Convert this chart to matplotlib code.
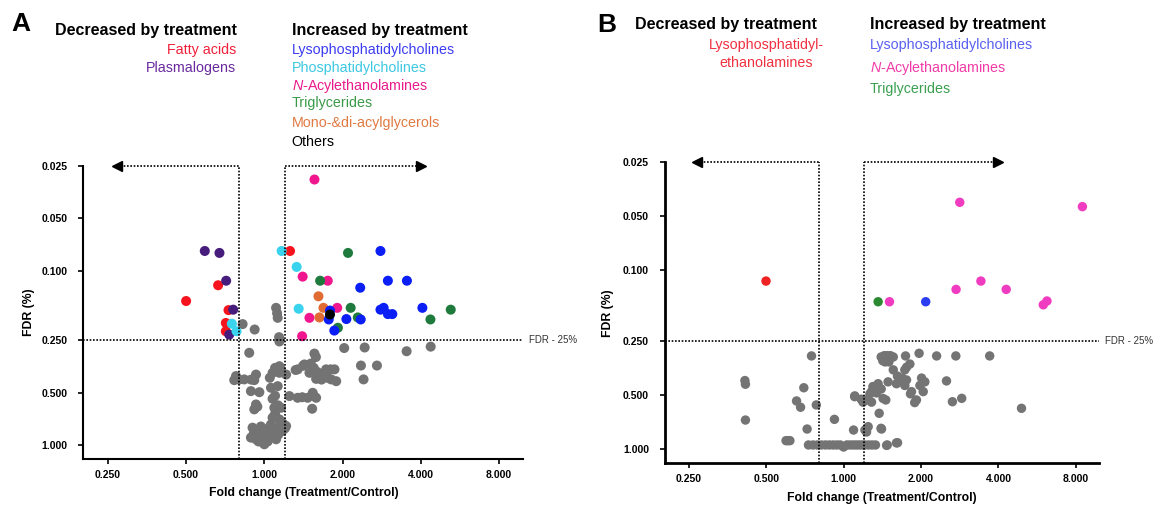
import matplotlib
matplotlib.use('Agg')
import matplotlib.pyplot as plt
from matplotlib.ticker import FixedLocator, NullLocator

plt.rcParams['font.family'] = ['Liberation Sans', 'DejaVu Sans']
plt.rcParams['mathtext.fontset'] = 'custom'
plt.rcParams['mathtext.rm'] = 'Liberation Sans'
plt.rcParams['mathtext.it'] = 'Liberation Sans:italic'

X_TICKS = [0.25, 0.5, 1, 2, 4, 8]
X_LABELS = ['0.250', '0.500', '1.000', '2.000', '4.000', '8.000']
Y_TICKS = [0.025, 0.05, 0.1, 0.25, 0.5, 1.0]
Y_LABELS = ['0.025', '0.050', '0.100', '0.250', '0.500', '1.000']
FC_CUTOFFS = (0.8, 1.2)
FDR_CUTOFF = 0.25
ARROW_ENDS = (0.27, 4.0)

# ---- panel A data (fold change, FDR) ----
fa_fc = [0.50, 0.664, 0.728, 0.711, 0.711, 1.256]
fa_fdr = [0.149, 0.121, 0.168, 0.199, 0.222, 0.077]
pl_fc = [0.59, 0.672, 0.713, 0.759, 0.733]
pl_fdr = [0.077, 0.079, 0.114, 0.167, 0.232]
lpc_fc = [2.80, 2.99, 3.54, 2.34, 1.79, 1.77, 2.07, 2.35, 1.86, 2.80, 2.88, 2.99, 3.11, 4.06]
lpc_fdr = [0.077, 0.114, 0.114, 0.125, 0.169, 0.190, 0.189, 0.190, 0.220, 0.167, 0.163, 0.177, 0.177, 0.163]
pc_fc = [1.166, 1.332, 1.356, 0.75, 0.782]
pc_fdr = [0.077, 0.095, 0.165, 0.201, 0.222]
nae_fc = [1.56, 1.405, 1.755, 1.492, 1.908, 1.398]
nae_fdr = [0.030, 0.108, 0.114, 0.186, 0.163, 0.237]
tg_fc = [2.10, 1.64, 2.15, 2.29, 1.92, 5.22, 4.36]
tg_fdr = [0.079, 0.114, 0.163, 0.185, 0.212, 0.167, 0.190]
mdg_fc = [1.616, 1.689, 1.630]
mdg_fdr = [0.140, 0.163, 0.185]
oth_fc = [1.79]
oth_fdr = [0.178]

gray_a_fc = [1.11, 1.126, 1.12, 1.143, 1.14, 0.825, 0.918, 0.875, 1.559, 1.58, 2.03, 2.434, 3.53, 4.37,
             2.355, 2.714, 2.41,
             0.778, 0.766, 0.80, 0.837, 0.89, 0.929, 0.915, 1.076, 1.10, 1.143, 1.16, 1.213, 1.143, 1.05,
             0.888, 0.957, 1.061, 1.126, 1.076, 1.10,
             0.929, 0.915, 0.94, 1.093, 1.16, 1.13,
             1.076, 1.143, 1.10, 1.213, 1.18,
             0.901, 1.015, 1.143, 0.888, 0.957, 1.045, 1.0, 1.11, 0.929, 0.92, 0.97, 1.06, 1.09, 1.17,
             1.2, 0.95, 1.03, 1.07, 0.98, 1.13, 0.91, 1.02, 0.99, 1.08, 1.15,
             1.344, 1.427, 1.492, 1.583, 1.73, 1.80, 1.863, 1.809, 1.891, 1.41, 1.51, 1.32, 1.62,
             1.66, 1.70, 1.55, 1.60, 1.75,
             1.249, 1.344, 1.469, 1.536, 1.583, 1.528, 1.40, 1.55]
gray_a_fdr = [0.163, 0.186, 0.175, 0.254, 0.240, 0.202, 0.217, 0.295, 0.298, 0.312, 0.277, 0.275, 0.289, 0.272,
              0.349, 0.349, 0.419,
              0.401, 0.423, 0.42, 0.419, 0.42, 0.393, 0.423, 0.384, 0.36, 0.352, 0.37, 0.393, 0.384, 0.41,
              0.489, 0.496, 0.468, 0.458, 0.541, 0.52,
              0.583, 0.622, 0.60, 0.609, 0.609, 0.59,
              0.694, 0.710, 0.66, 0.775, 0.75,
              0.792, 0.809, 0.809, 0.903, 0.864, 0.884, 0.986, 0.923, 0.923, 0.82, 0.78, 0.76, 0.84, 0.83,
              0.80, 0.95, 0.95, 0.90, 0.91, 0.87, 0.86, 0.85, 0.83, 0.80, 0.76,
              0.367, 0.344, 0.384, 0.416, 0.367, 0.367, 0.367, 0.419, 0.429, 0.35, 0.34, 0.37, 0.40,
              0.42, 0.40, 0.36, 0.38, 0.41,
              0.522, 0.534, 0.534, 0.500, 0.534, 0.617, 0.53, 0.52]

# ---- panel B data ----
lpe_b_fc = [0.499]
lpe_b_fdr = [0.115]
lpc_b_fc = [2.086]
lpc_b_fdr = [0.150]
nae_b_fc = [1.508, 2.83, 8.49, 2.738, 3.42, 4.29, 6.18, 5.98]
nae_b_fdr = [0.150, 0.0418, 0.0442, 0.128, 0.115, 0.128, 0.1486, 0.156]
tg_b_fc = [1.362]
tg_b_fdr = [0.150]

gray_b_fc = [0.413, 0.415, 0.415, 0.750, 0.700, 0.656, 0.680, 0.783, 0.921, 0.721, 0.606, 0.597, 0.618,
             0.73, 0.76, 0.79, 0.82, 0.85, 0.88, 0.91, 0.94, 0.97, 1.0, 1.03, 1.06, 1.09, 1.12, 1.15,
             1.18, 1.21, 1.25, 1.29, 1.33, 1.478, 1.621,
             1.104, 1.093, 1.226, 1.246, 1.398, 1.21, 1.228, 1.404, 1.605, 1.47,
             1.40, 1.44, 1.48, 1.52, 1.56, 1.45, 1.50, 1.42, 1.741, 1.966, 2.30, 2.732, 3.70, 1.757,
             1.81, 1.73, 2.513, 2.01, 2.07, 2.04, 1.98, 1.837, 1.654, 1.605, 1.757, 1.489, 1.362, 1.30,
             1.284, 1.343, 1.265, 1.105, 1.17, 1.228, 1.19, 1.284, 1.424, 1.459, 1.82, 1.92, 1.89,
             2.65, 2.88, 4.92, 1.375, 1.56, 1.62, 1.69, 1.33, 1.40, 1.73]
gray_b_fdr = [0.413, 0.433, 0.686, 0.301, 0.453, 0.537, 0.582, 0.565, 0.680, 0.770, 0.894, 0.894, 0.894,
              0.945, 0.945, 0.945, 0.945, 0.945, 0.945, 0.945, 0.945, 0.945, 0.97, 0.945, 0.945, 0.945, 0.945, 0.945,
              0.945, 0.945, 0.945, 0.945, 0.945, 0.945, 0.918,
              0.508, 0.78, 0.78, 0.747, 0.763, 0.78, 0.80, 0.77, 0.92, 0.95,
              0.305, 0.30, 0.30, 0.30, 0.305, 0.325, 0.325, 0.32, 0.301, 0.291, 0.301, 0.301, 0.301, 0.348,
              0.334, 0.36, 0.415, 0.40, 0.42, 0.476, 0.44, 0.476, 0.41, 0.43, 0.41, 0.42, 0.43, 0.446,
              0.476, 0.484, 0.49, 0.503, 0.525, 0.53, 0.545, 0.545, 0.52, 0.53, 0.49, 0.53, 0.548,
              0.542, 0.519, 0.59, 0.629, 0.36, 0.39, 0.40, 0.47, 0.46, 0.44]

W, H = 1164, 505
fig = plt.figure(figsize=(W / 100, H / 100), dpi=100)


def px(x, y):
    return x / W, 1 - y / H


def setup(ax, xlim, ylim, spine_w, dot_size):
    ax.set_xscale('log', base=2)
    ax.set_yscale('log')
    ax.set_xlim(*xlim)
    ax.set_ylim(*ylim)
    ax.xaxis.set_major_locator(FixedLocator(X_TICKS))
    ax.yaxis.set_major_locator(FixedLocator(Y_TICKS))
    ax.xaxis.set_minor_locator(NullLocator())
    ax.yaxis.set_minor_locator(NullLocator())
    ax.set_xticklabels(X_LABELS, fontweight='bold', fontsize=7.5)
    ax.set_yticklabels(Y_LABELS, fontweight='bold', fontsize=7.5)
    ax.tick_params(axis='both', direction='out', length=3.5, width=1.2)
    ax.tick_params(axis='y', pad=8)
    ax.tick_params(axis='x', pad=4)
    for s in ['top', 'right']:
        ax.spines[s].set_visible(False)
    for s in ['left', 'bottom']:
        ax.spines[s].set_linewidth(spine_w)
    ax.set_xlabel('Fold change (Treatment/Control)', fontweight='bold', fontsize=8.8)
    ax.set_ylabel('FDR (%)', fontweight='bold', fontsize=8.8)

    dot = dict(linestyle=(0, (1, 1)), color='black', lw=1.2, zorder=3)
    ax.axhline(FDR_CUTOFF, **dot)
    for c in FC_CUTOFFS:
        ax.axvline(c, **dot)
    top = ylim[1]
    ax.plot([ARROW_ENDS[0], FC_CUTOFFS[0]], [top, top], clip_on=False, **dot)
    ax.plot([FC_CUTOFFS[1], ARROW_ENDS[1]], [top, top], clip_on=False, **dot)
    ax.plot([ARROW_ENDS[0]], [top], marker='<', ms=7, color='black', clip_on=False, zorder=4)
    ax.plot([ARROW_ENDS[1]], [top], marker='>', ms=7, color='black', clip_on=False, zorder=4)
    ax.text(1.013, FDR_CUTOFF, 'FDR - 25%', transform=ax.get_yaxis_transform(),
            fontsize=7, color='#333333', va='center', ha='left')


# ---------------- panel A ----------------
axA = fig.add_axes([83.3 / W, 1 - 459.3 / H, (523.4 - 83.3) / W, (459.3 - 165.7) / H])
setup(axA, (0.201, 9.94), (1.202, 0.025), 1.5, 50)
axA.xaxis.set_label_coords(0.5, -0.095)
axA.yaxis.set_label_coords(-0.11, 0.5)
sA = 52
axA.scatter(gray_a_fc, gray_a_fdr, s=sA, c='#737373', edgecolors='none', zorder=2)
axA.scatter(fa_fc, fa_fdr, s=sA, c='#f5141e', edgecolors='none', zorder=2)
axA.scatter(pl_fc, pl_fdr, s=sA, c='#461c7c', edgecolors='none', zorder=2)
axA.scatter(pc_fc, pc_fdr, s=sA, c='#3ad3ee', edgecolors='none', zorder=2)
axA.scatter(nae_fc, nae_fdr, s=sA, c='#f0168e', edgecolors='none', zorder=2)
axA.scatter(tg_fc, tg_fdr, s=sA, c='#1f7b3d', edgecolors='none', zorder=2)
axA.scatter(mdg_fc, mdg_fdr, s=sA, c='#e06b33', edgecolors='none', zorder=2)
axA.scatter(lpc_fc, lpc_fdr, s=sA, c='#0a1ef5', edgecolors='none', zorder=2)
axA.scatter(oth_fc, oth_fdr, s=sA, c='black', edgecolors='none', zorder=2)

# ---------------- panel B ----------------
axB = fig.add_axes([665 / W, 1 - 463.3 / H, (1099 - 665) / W, (463.3 - 162.3) / H])
setup(axB, (0.2019, 9.85), (1.196, 0.025), 2.0, 45)
axB.xaxis.set_label_coords(0.5, -0.095)
axB.yaxis.set_label_coords(-0.1175, 0.5)
sB = 46
axB.scatter(gray_b_fc, gray_b_fdr, s=sB, c='#747474', edgecolors='none', zorder=2)
axB.scatter(lpe_b_fc, lpe_b_fdr, s=sB, c='#ee2222', edgecolors='none', zorder=2)
axB.scatter(tg_b_fc, tg_b_fdr, s=sB, c='#2a8a32', edgecolors='none', zorder=2)
axB.scatter(lpc_b_fc, lpc_b_fdr, s=sB, c='#2c3cf0', edgecolors='none', zorder=2)
axB.scatter(nae_b_fc, nae_b_fdr, s=sB, c='#f03cc0', edgecolors='none', zorder=2)

# ---------------- legend texts ----------------
HEAD = dict(fontsize=11.5, fontweight='bold', va='center')
ITEM = dict(fontsize=10.3, va='center')
NAE_LABEL = r'$\it{N}$-Acylethanolamines'

fig.text(*px(11, 24), 'A', fontsize=19, fontweight='bold', va='center')
fig.text(*px(54.8, 30), 'Decreased by treatment', ha='left', **HEAD)
fig.text(*px(236, 50), 'Fatty acids', ha='right', color='#f0203a', **ITEM)
fig.text(*px(236, 68), 'Plasmalogens', ha='right', color='#6a2a9e', **ITEM)
fig.text(*px(291.5, 30), 'Increased by treatment', ha='left', **HEAD)
a_items = [('Lysophosphatidylcholines', '#3c3cf2', 50),
           ('Phosphatidylcholines', '#3cc8e2', 68),
           (NAE_LABEL, '#ea1a8c', 85.7),
           ('Triglycerides', '#3a9a48', 103.3),
           ('Mono-&di-acylglycerols', '#e07a42', 122.7),
           ('Others', 'black', 141.7)]
for label, col, y in a_items:
    fig.text(*px(291.5, y), label, ha='left', color=col, **ITEM)

fig.text(*px(597, 25), 'B', fontsize=19, fontweight='bold', va='center')
fig.text(*px(634.7, 25), 'Decreased by treatment', ha='left', **HEAD)
fig.text(*px(766, 45), 'Lysophosphatidyl-', ha='center', color='#f03040', **ITEM)
fig.text(*px(766, 63.3), 'ethanolamines', ha='center', color='#f03040', **ITEM)
fig.text(*px(870, 25), 'Increased by treatment', ha='left', **HEAD)
b_items = [('Lysophosphatidylcholines', '#5a60f0', 45),
           (NAE_LABEL, '#f03ca8', 67.7),
           ('Triglycerides', '#3aa050', 89.3)]
for label, col, y in b_items:
    fig.text(*px(870, y), label, ha='left', color=col, **ITEM)

fig.savefig('out.png', dpi=100)
